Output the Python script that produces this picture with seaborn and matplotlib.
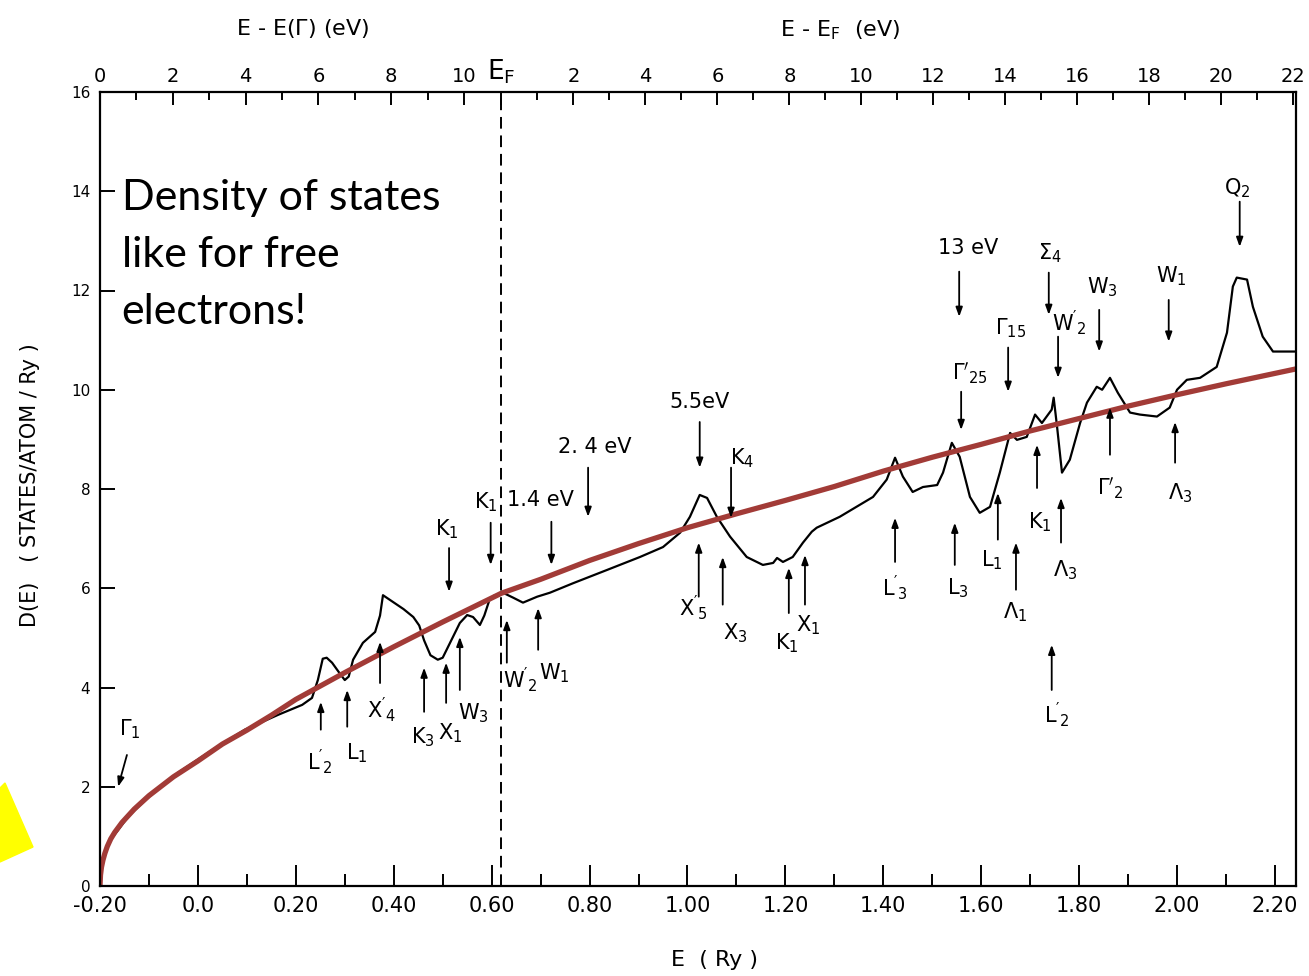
import matplotlib.pyplot as plt
import seaborn as sns
import pandas as pd
import numpy as np
from matplotlib.patches import Polygon

# 从扫描图中读取的态密度曲线 (E in Ry, D in states/atom/Ry)
dos_E = [-0.200, -0.197, -0.193, -0.188, -0.180, -0.169, -0.143, -0.108, -0.041, 0.029, 0.096,
         0.164, 0.213, 0.233, 0.245, 0.255, 0.263, 0.274, 0.290, 0.300, 0.308, 0.317, 0.337,
         0.362, 0.372, 0.378, 0.390, 0.420, 0.440, 0.452, 0.462, 0.475, 0.490, 0.500, 0.515,
         0.535, 0.550, 0.562, 0.576, 0.585, 0.595, 0.605, 0.623, 0.644, 0.664, 0.693, 0.719,
         0.766, 0.836, 0.903, 0.950, 0.985, 1.005, 1.025, 1.040, 1.060, 1.087, 1.121, 1.154,
         1.175, 1.183, 1.195, 1.215, 1.236, 1.254, 1.264, 1.311, 1.379, 1.407, 1.424, 1.440,
         1.460, 1.481, 1.510, 1.522, 1.540, 1.556, 1.577, 1.597, 1.618, 1.638, 1.659, 1.673,
         1.693, 1.710, 1.724, 1.744, 1.748, 1.755, 1.765, 1.781, 1.802, 1.816, 1.836, 1.847,
         1.863, 1.879, 1.904, 1.924, 1.959, 1.985, 2.000, 2.020, 2.047, 2.081, 2.102, 2.114,
         2.122, 2.143, 2.155, 2.175, 2.196, 2.243]
dos_D = [0.00, 0.35, 0.55, 0.75, 0.92, 1.05, 1.39, 1.73, 2.28, 2.74, 3.15,
         3.45, 3.65, 3.79, 4.15, 4.58, 4.60, 4.50, 4.28, 4.15, 4.22, 4.56, 4.90,
         5.12, 5.45, 5.86, 5.78, 5.58, 5.42, 5.25, 4.95, 4.65, 4.56, 4.60, 4.90,
         5.30, 5.46, 5.42, 5.26, 5.45, 5.75, 5.85, 5.91, 5.81, 5.71, 5.83, 5.91,
         6.10, 6.37, 6.63, 6.83, 7.12, 7.44, 7.88, 7.82, 7.44, 7.04, 6.63, 6.47,
         6.51, 6.61, 6.53, 6.63, 6.92, 7.14, 7.22, 7.44, 7.84, 8.19, 8.63, 8.25,
         7.94, 8.04, 8.08, 8.33, 8.93, 8.65, 7.84, 7.52, 7.64, 8.33, 9.13, 8.99,
         9.05, 9.50, 9.33, 9.60, 9.84, 9.25, 8.33, 8.59, 9.33, 9.74, 10.06, 10.00,
         10.24, 9.94, 9.54, 9.50, 9.46, 9.64, 10.00, 10.20, 10.24, 10.46, 11.15, 12.08,
         12.26, 12.22, 11.67, 11.07, 10.77, 10.77]

# 自由电子曲线 (红线)
free_E = [-0.200, -0.199, -0.197, -0.194, -0.190, -0.185, -0.178, -0.170, -0.155, -0.130,
          -0.100, -0.050, 0.000, 0.050, 0.100, 0.150, 0.200, 0.300, 0.400, 0.500, 0.620,
          0.700, 0.800, 0.900, 1.000, 1.100, 1.200, 1.300, 1.400, 1.500, 1.600, 1.700,
          1.800, 1.900, 2.000, 2.100, 2.243]
free_D = [0.00, 0.22, 0.38, 0.52, 0.66, 0.80, 0.95, 1.08, 1.28, 1.55,
          1.82, 2.20, 2.52, 2.86, 3.14, 3.44, 3.76, 4.30, 4.82, 5.32, 5.90,
          6.18, 6.56, 6.90, 7.22, 7.50, 7.77, 8.05, 8.36, 8.64, 8.90, 9.17,
          9.42, 9.67, 9.90, 10.12, 10.42]

E_F = 0.62
bottom_ticks = [-0.2, 0.0, 0.2, 0.4, 0.6, 0.8, 1.0, 1.2, 1.4, 1.6, 1.8, 2.0, 2.2]
bottom_labels = ['-0.20', '0.0', '0.20', '0.40', '0.60', '0.80', '1.00', '1.20', '1.40',
                 '1.60', '1.80', '2.00', '2.20']
ev_gamma = [0, 2, 4, 6, 8, 10]
ev_fermi = [2, 4, 6, 8, 10, 12, 14, 16, 18, 20, 22]

# 标注: 文字, 箭尾(x, y), 箭头(x, y), 文字位置(x, y)
annots = [
    (r'$\mathregular{K_1}$', 0.513, 6.81, 0.513, 5.93, 0.509, 7.18),
    (r'$\mathregular{K_1}$', 0.598, 7.32, 0.598, 6.47, 0.588, 7.74),
    ('1.4 eV', 0.722, 7.34, 0.722, 6.47, 0.700, 7.78),
    ('2. 4 eV', 0.797, 8.43, 0.797, 7.44, 0.811, 8.85),
    ('5.5eV', 1.025, 9.35, 1.025, 8.43, 1.025, 9.76),
    (r'$\mathregular{K_4}$', 1.089, 8.43, 1.089, 7.42, 1.111, 8.63),
    ('13 eV', 1.555, 12.38, 1.555, 11.47, 1.573, 12.86),
    (r'$\Sigma_4$', 1.738, 12.36, 1.738, 11.51, 1.740, 12.76),
    (r'$\mathregular{W_3}$', 1.841, 11.61, 1.841, 10.77, 1.847, 12.06),
    (r'$\mathregular{W_1}$', 1.983, 11.81, 1.983, 10.97, 1.989, 12.28),
    (r'$\mathregular{Q_2}$', 2.128, 13.79, 2.128, 12.88, 2.122, 14.07),
    (r'$\Gamma_{15}$', 1.655, 10.85, 1.655, 9.96, 1.659, 11.25),
    (r"$\mathregular{W'_2}$", 1.757, 11.07, 1.757, 10.24, 1.781, 11.35),
    (r"$\Gamma'_{25}$", 1.559, 9.96, 1.559, 9.19, 1.577, 10.34),
    (r"$\mathregular{L'_2}$", 0.251, 3.15, 0.251, 3.71, 0.249, 2.50),
    (r'$\mathregular{L_1}$', 0.305, 3.21, 0.305, 3.95, 0.325, 2.68),
    (r"$\mathregular{X'_4}$", 0.372, 4.09, 0.372, 4.92, 0.376, 3.55),
    (r'$\mathregular{K_3}$', 0.462, 3.51, 0.462, 4.40, 0.460, 3.00),
    (r'$\mathregular{X_1}$', 0.507, 3.69, 0.507, 4.50, 0.515, 3.08),
    (r'$\mathregular{W_3}$', 0.535, 3.95, 0.535, 5.02, 0.562, 3.49),
    (r"$\mathregular{W'_2}$", 0.631, 4.50, 0.631, 5.36, 0.658, 4.15),
    (r'$\mathregular{W_1}$', 0.695, 4.76, 0.695, 5.60, 0.729, 4.29),
    (r"$\mathregular{X'_5}$", 1.023, 5.83, 1.023, 6.92, 1.011, 5.62),
    (r'$\mathregular{X_3}$', 1.072, 5.67, 1.072, 6.63, 1.097, 5.10),
    (r'$\mathregular{K_1}$', 1.207, 5.50, 1.207, 6.41, 1.203, 4.90),
    (r'$\mathregular{X_1}$', 1.240, 5.67, 1.240, 6.67, 1.246, 5.26),
    (r"$\mathregular{L'_3}$", 1.424, 6.53, 1.424, 7.42, 1.424, 6.01),
    (r'$\mathregular{L_3}$', 1.546, 6.47, 1.546, 7.32, 1.552, 6.01),
    (r'$\mathregular{L_1}$', 1.634, 6.98, 1.634, 7.92, 1.622, 6.57),
    (r'$\Lambda_1$', 1.671, 5.97, 1.671, 6.92, 1.669, 5.52),
    (r'$\mathregular{K_1}$', 1.714, 8.02, 1.714, 8.89, 1.720, 7.34),
    (r'$\Lambda_3$', 1.763, 6.92, 1.763, 7.82, 1.771, 6.37),
    (r"$\mathregular{L'_2}$", 1.744, 3.95, 1.744, 4.86, 1.755, 3.45),
    (r"$\Gamma'_2$", 1.863, 8.69, 1.863, 9.64, 1.863, 8.02),
    (r'$\Lambda_3$', 1.996, 8.53, 1.996, 9.35, 2.006, 7.92),
    (r'$\Gamma_1$', -0.145, 2.64, -0.163, 2.00, -0.139, 3.15),
]

sns.set_style("ticks")
plt.rcParams['font.family'] = ['DejaVu Sans']
plt.rcParams['mathtext.fontset'] = 'dejavusans'
plt.rcParams['text.color'] = 'black'
plt.rcParams['xtick.color'] = 'black'
plt.rcParams['ytick.color'] = 'black'
plt.rcParams['axes.edgecolor'] = 'black'

fig = plt.figure(figsize=(13.09, 9.76), dpi=100)
ax = fig.add_axes([100 / 1309, 90 / 976, 1196 / 1309, 794 / 976])

dos = pd.DataFrame({'E': dos_E, 'D': dos_D})
free = pd.DataFrame({'E': free_E, 'D': free_D})
sns.lineplot(data=dos, x='E', y='D', ax=ax, color='black', lw=1.6, sort=False)
sns.lineplot(data=free, x='E', y='D', ax=ax, color='#A23B37', lw=3.8, sort=False)
ax.axvline(E_F, color='black', lw=1.4, ls=(0, (6, 3.5)))

ax.set_xlim(-0.2, 2.243)
ax.set_ylim(0, 16)
ax.set_xlabel('')
ax.set_ylabel('')
for s in ax.spines.values():
    s.set_linewidth(1.6)
    s.set_visible(True)

ax.set_xticks(bottom_ticks, bottom_labels)
ax.set_xticks(np.arange(-0.1, 2.15, 0.2), minor=True)
ax.tick_params(axis='x', which='major', direction='in', length=15, width=1.4, labelsize=15, pad=7)
ax.tick_params(axis='x', which='minor', direction='in', length=9, width=1.4)
ax.set_yticks(range(0, 17, 2))
ax.tick_params(axis='y', direction='in', length=11, width=1.4, labelsize=11, pad=7)

# 顶部能量坐标 (eV)
ax2 = ax.twiny()
ax2.set_xlim(ax.get_xlim())
top_pos = [-0.2 + e / 13.45 for e in ev_gamma] + [E_F] + [E_F + e / 13.6 for e in ev_fermi]
top_lab = [str(e) for e in ev_gamma] + [r'$\mathregular{E_F}$'] + [str(e) for e in ev_fermi]
ax2.set_xticks(top_pos, top_lab)
minor_pos = [-0.2 + e / 13.45 for e in [1, 3, 5, 7, 9]] + [E_F + e / 13.6 for e in range(1, 22, 2)]
ax2.set_xticks(minor_pos, minor=True)
ax2.tick_params(axis='x', which='major', direction='in', length=9, width=1.4, labelsize=14, pad=4)
ax2.tick_params(axis='x', which='minor', direction='in', length=6, width=1.4)
for t in ax2.get_xticklabels():
    if 'E_F' in t.get_text():
        t.set_fontsize(19)
for s in ax2.spines.values():
    s.set_visible(False)

# 箭头标注
for lab, x0, y0, x1, y1, tx, ty in annots:
    ax.annotate('', xy=(x1, y1), xytext=(x0, y0),
                arrowprops=dict(arrowstyle='-|>,head_length=0.55,head_width=0.2',
                                color='black', lw=1.3, shrinkA=0, shrinkB=0))
    ax.text(tx, ty, lab, fontsize=15, ha='center', va='center')

ax.text(-0.156, 14.25, 'Density of states\nlike for free\nelectrons!', fontsize=31,
        family=['Lato', 'DejaVu Sans'], ha='left', va='top', linespacing=1.62)

# 坐标轴标题
fig.text(303 / 1309, 1 - 28 / 976, r'E - E($\Gamma$) (eV)', fontsize=16, ha='center', va='center')
fig.text(840 / 1309, 1 - 30 / 976, r'E - $\mathregular{E_F}$  (eV)', fontsize=16, ha='center', va='center')
fig.text(715 / 1309, 1 - 960 / 976, 'E  ( Ry )', fontsize=16, ha='center', va='center')
fig.text(30 / 1309, 1 - 485 / 976, 'D(E)   ( STATES/ATOM / Ry )', fontsize=15, rotation=90,
         ha='center', va='center')

# 左下角黄色色块
fig.add_artist(Polygon([[0, 1 - 788 / 976], [5 / 1309, 1 - 783 / 976], [33 / 1309, 1 - 847 / 976],
                        [0, 1 - 862 / 976]], closed=True, color='#FFFF00', transform=fig.transFigure))

plt.savefig('out.png')
